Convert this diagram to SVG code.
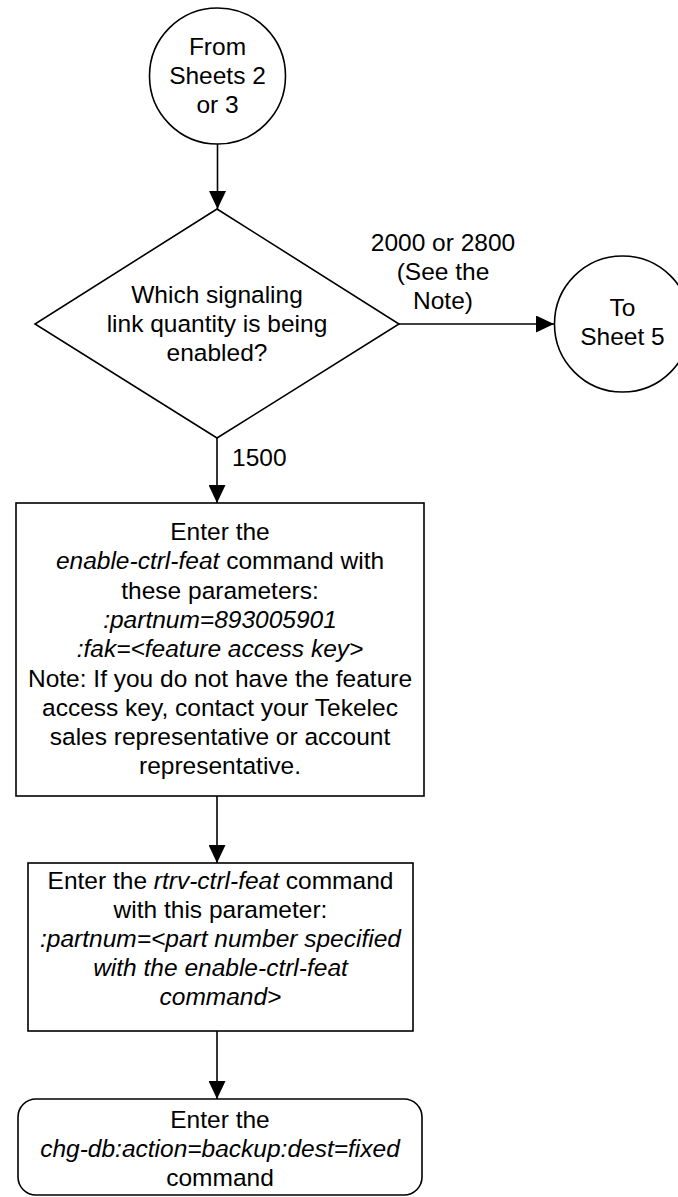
<svg xmlns="http://www.w3.org/2000/svg" width="678" height="1197" viewBox="0 0 678 1197">
<style>
.s{fill:#fff;stroke:#000;stroke-width:1.6}
.t{font-family:"Liberation Sans",Arial,sans-serif;font-size:24.5px;fill:#000;text-anchor:middle}
.i{font-style:italic}
.c{stroke:#000;stroke-width:1.6;fill:none}
</style>
<defs>
<marker id="a" viewBox="0 0 18 17" refX="18" refY="8.5" markerWidth="18" markerHeight="17" markerUnits="userSpaceOnUse" orient="auto"><path d="M0,0L18,8.5L0,17z" fill="#000"/></marker>
</defs>
<g id="connectors">
<path class="c" d="M217.5,144V209" marker-end="url(#a)"/>
<path class="c" d="M399,324H554" marker-end="url(#a)"/>
<path class="c" d="M217,438V503" marker-end="url(#a)"/>
<path class="c" d="M217,796V863" marker-end="url(#a)"/>
<path class="c" d="M217,1031V1099" marker-end="url(#a)"/>
<text class="t" x="443" y="251">2000 or 2800</text>
<text class="t" x="443" y="280">(See the</text>
<text class="t" x="443" y="309">Note)</text>
<text class="t" x="232" y="466" style="text-anchor:start">1500</text>
</g>
<g id="start">
<circle class="s" cx="217.5" cy="76" r="68"/>
<text class="t" x="217.5" y="55">From</text>
<text class="t" x="217.5" y="84">Sheets 2</text>
<text class="t" x="217.5" y="113">or 3</text>
</g>
<g id="decision">
<path class="s" d="M217,209L399,324L217,438L35,324Z"/>
<text class="t" x="217" y="303">Which signaling</text>
<text class="t" x="217" y="332">link quantity is being</text>
<text class="t" x="217" y="361">enabled?</text>
</g>
<g id="sheet5">
<circle class="s" cx="622.5" cy="324" r="68"/>
<text class="t" x="622.5" y="316">To</text>
<text class="t" x="622.5" y="345">Sheet 5</text>
</g>
<g id="enable">
<rect class="s" x="16" y="503" width="408" height="293"/>
<text class="t" x="220" y="540">Enter the</text>
<text class="t" x="220" y="569.3"><tspan class="i">enable-ctrl-feat</tspan> command with</text>
<text class="t" x="220" y="598.6">these parameters:</text>
<text class="t i" x="220" y="627.9">:partnum=893005901</text>
<text class="t i" x="220" y="657.2">:fak=&lt;feature access key&gt;</text>
<text class="t" x="220" y="686.5">Note: If you do not have the feature</text>
<text class="t" x="220" y="715.8">access key, contact your Tekelec</text>
<text class="t" x="220" y="745.1">sales representative or account</text>
<text class="t" x="220" y="774.4">representative.</text>
</g>
<g id="rtrv">
<rect class="s" x="28" y="863" width="385" height="168"/>
<text class="t" x="220.5" y="889">Enter the <tspan class="i">rtrv-ctrl-feat</tspan> command</text>
<text class="t" x="220.5" y="918">with this parameter:</text>
<text class="t i" x="220.5" y="947">:partnum=&lt;part number specified</text>
<text class="t i" x="220.5" y="976">with the enable-ctrl-feat</text>
<text class="t i" x="220.5" y="1005">command&gt;</text>
</g>
<g id="backup">
<rect class="s" x="18" y="1099" width="404" height="96" rx="18"/>
<text class="t" x="220" y="1128">Enter the</text>
<text class="t i" x="220" y="1157">chg-db:action=backup:dest=fixed</text>
<text class="t" x="220" y="1186">command</text>
</g>
</svg>
